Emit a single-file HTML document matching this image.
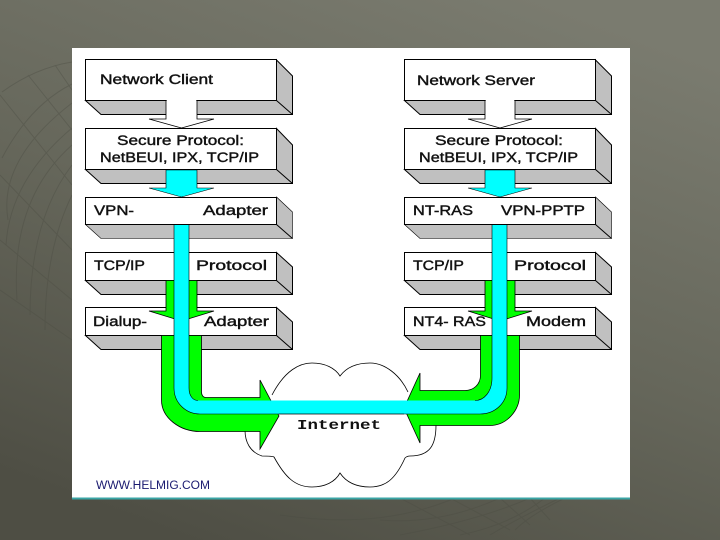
<!DOCTYPE html>
<html><head><meta charset="utf-8">
<style>
html,body{margin:0;padding:0;width:720px;height:540px;overflow:hidden;background:#66675b}
svg{display:block}
.t{font-family:"Liberation Sans",sans-serif;font-size:13.5px;fill:#111;stroke:#111;stroke-width:.4}
</style></head><body>
<svg width="720" height="540" viewBox="0 0 720 540" xmlns="http://www.w3.org/2000/svg">
<defs>
<linearGradient id="bg" x1="0.75" y1="0" x2="0.25" y2="1">
<stop offset="0" stop-color="#7a7b6f"/><stop offset="0.5" stop-color="#66675b"/><stop offset="1" stop-color="#4e4e44"/>
</linearGradient>
</defs>
<rect width="720" height="540" fill="url(#bg)"/>
<g fill="none" stroke="#4c4d43" stroke-width="1" opacity=".4">
<path d="M2 92Q35 68 72 62M2 158Q30 105 72 84M8 220Q-2 160 72 103M6 245Q10 180 72 128M17 300Q10 200 72 145M30 315Q30 220 72 165M45 330Q45 250 72 195"/>
<path d="M0 95L72 185M28 75L72 130M55 65L72 90M0 175L72 250M0 240L72 300M0 290L72 340"/>
<path d="M400 535Q480 520 530 498M460 535Q510 525 545 498M490 535Q515 520 560 498M515 530Q530 515 565 498M380 520Q440 525 500 498M280 515Q380 530 455 498"/>
<path d="M400 498L470 535M450 498L510 530M500 498L530 525M530 498L550 520"/>
</g>
<rect x="72" y="48" width="558" height="450" fill="#fff"/>
<rect x="72" y="497.500" width="558" height="2" fill="#3aa5a5"/>

<!-- boxes -->
<g stroke="#000" stroke-width="1" fill="#c0c0c0">
<path d="M85.500 100.500L101 114.500H292.500V76L276.500 60V100.500Z"/>
<path d="M85.500 169.500L101 183.500H292.500V145L276.500 128.500V169.500Z"/>
<path d="M85.500 224.500L101 238.500H292.500V212L276.500 197V224.500Z" stroke-width=".6"/>
<path d="M85.500 280.500L101 294.500H292.500V267L276.500 252.500V280.500Z"/>
<path d="M85.500 335.500L101 349.500H292.500V322L276.500 307.500V335.500Z"/>
<path d="M404.500 100.500L420 114.500H611.500V76L595.500 60V100.500Z"/>
<path d="M404.500 169.500L420 183.500H611.500V145L595.500 128.500V169.500Z"/>
<path d="M404.500 224.500L420 238.500H611.500V212L595.500 197V224.500Z" stroke-width=".6"/>
<path d="M404.500 280.500L420 294.500H611.500V267L595.500 252.500V280.500Z"/>
<path d="M404.500 335.500L420 349.500H611.500V322L595.500 307.500V335.500Z"/>
<path d="M276.500 100.500L292.500 114.500M276.500 169.500L292.500 183.500M276.500 224.500L292.500 238.500M276.500 280.500L292.500 294.500M276.500 335.500L292.500 349.500M595.500 100.500L611.500 114.500M595.500 169.500L611.500 183.500M595.500 224.500L611.500 238.500M595.500 280.500L611.500 294.500M595.500 335.500L611.500 349.500" fill="none"/>
</g>
<g stroke="#000" stroke-width="1" fill="#fff">
<rect x="85.500" y="59.500" width="191" height="41"/>
<rect x="85.500" y="128.500" width="191" height="41"/>
<rect x="85.500" y="197.500" width="191" height="27"/>
<rect x="85.500" y="252.500" width="191" height="28"/>
<rect x="85.500" y="307.500" width="191" height="28"/>
<rect x="404.500" y="59.500" width="191" height="41"/>
<rect x="404.500" y="128.500" width="191" height="41"/>
<rect x="404.500" y="197.500" width="191" height="27"/>
<rect x="404.500" y="252.500" width="191" height="28"/>
<rect x="404.500" y="307.500" width="191" height="28"/>
</g>

<!-- cloud -->
<path d="M272 395C285 370 300 363 312 363C325 363 335 368 340 376C346 368 356 363 370 363C385 363 400 375 408 392M436 425C436 445 430 456 410 456C407 456 406 457 405 458C395 480 385 487 370 487C356 487 346 482 340 473C335 482 325 487 312 487C295 487 285 477 274 457C272 456 268 456 262 456C250 452 245 442 245 430" fill="#fff" stroke="#000" stroke-width=".8"/>

<!-- white arrows -->
<path d="M166 100.500V119H149L181.500 128L214 119H197V100.500" fill="#fff" stroke="#000" stroke-width=".8"/>
<path d="M485 100.500V119H468L500 128L532 119H515V100.500" fill="#fff" stroke="#000" stroke-width=".8"/>
<rect x="167" y="99" width="29" height="4" fill="#fff"/><rect x="486" y="99" width="28" height="4" fill="#fff"/>

<!-- cyan wide arrows -->
<path d="M166 170V188H149L181.500 197L214 188H197V170Z" fill="#0ff" stroke="#000" stroke-width=".6"/>
<path d="M485 170V188H468L500 197L532 188H515V170Z" fill="#0ff" stroke="#000" stroke-width=".6"/>

<!-- green upper arrows -->
<path d="M166 280.500V311H149L181.500 321L214 311H197V280.500Z" fill="#0f0" stroke="#000" stroke-width=".8"/>
<path d="M485 280.500V311H468L500 321L532 311H515V280.500Z" fill="#0f0" stroke="#000" stroke-width=".8"/>

<!-- green lower left -->
<path d="M161.500 335.500V400C161.500 418 180 431.500 200 431.500H260V449L279 416L260 380V397.500H206C203 397.500 201.500 395 201.500 392V335.500Z" fill="#0f0" stroke="#000" stroke-width=".8"/>
<!-- green lower right -->
<path d="M480.500 335.500V375C480.500 385 473 390.500 465 390.500H420V373L404 408L420 443V425.500H490C507 425.500 519.500 410 519.500 395V335.500Z" fill="#0f0" stroke="#000" stroke-width=".8"/>

<!-- cyan U -->
<path d="M174 225V388C174 403 186 414 200 414H480C495 414 507 403 507 388V225H492V378C492 392 484 400.500 475 400.500H198C193 400.500 189 396 189 388V225Z" fill="#0ff"/>
<path d="M174 225V388C174 403 186 414 200 414H279M404 414H480C495 414 507 403 507 388V225M492 225V378C492 392 484 400.500 475 400.500M189 225V388C189 396 193 400.500 198 400.500" fill="none" stroke="#000" stroke-width=".6"/>
<path d="M279 414H404" stroke="#000" stroke-width=".8"/>

<!-- labels -->
<text class="t" x="100" y="84" textLength="113" lengthAdjust="spacingAndGlyphs">Network Client</text>
<text class="t" x="117" y="145" textLength="127" lengthAdjust="spacingAndGlyphs">Secure Protocol:</text>
<text class="t" x="100" y="162" textLength="159" lengthAdjust="spacingAndGlyphs">NetBEUI, IPX, TCP/IP</text>
<text class="t" x="94" y="215" textLength="40" lengthAdjust="spacingAndGlyphs">VPN-</text>
<text class="t" x="203" y="215" textLength="65" lengthAdjust="spacingAndGlyphs">Adapter</text>
<text class="t" x="94" y="270" textLength="51" lengthAdjust="spacingAndGlyphs">TCP/IP</text>
<text class="t" x="196" y="270" textLength="71" lengthAdjust="spacingAndGlyphs">Protocol</text>
<text class="t" x="93" y="326" textLength="54" lengthAdjust="spacingAndGlyphs">Dialup-</text>
<text class="t" x="204" y="326" textLength="65" lengthAdjust="spacingAndGlyphs">Adapter</text>

<text class="t" x="417" y="85" textLength="118" lengthAdjust="spacingAndGlyphs">Network Server</text>
<text class="t" x="435" y="145" textLength="128" lengthAdjust="spacingAndGlyphs">Secure Protocol:</text>
<text class="t" x="419" y="162" textLength="159" lengthAdjust="spacingAndGlyphs">NetBEUI, IPX, TCP/IP</text>
<text class="t" x="413" y="215" textLength="60" lengthAdjust="spacingAndGlyphs">NT-RAS</text>
<text class="t" x="501" y="215" textLength="84" lengthAdjust="spacingAndGlyphs">VPN-PPTP</text>
<text class="t" x="413" y="270" textLength="51" lengthAdjust="spacingAndGlyphs">TCP/IP</text>
<text class="t" x="514" y="270" textLength="72" lengthAdjust="spacingAndGlyphs">Protocol</text>
<text class="t" x="413" y="326" textLength="73" lengthAdjust="spacingAndGlyphs">NT4- RAS</text>
<text class="t" x="526" y="326" textLength="60" lengthAdjust="spacingAndGlyphs">Modem</text>

<text x="297" y="429" textLength="84" lengthAdjust="spacingAndGlyphs" style="font-family:'Liberation Mono',monospace;font-size:14px;font-weight:bold;fill:#111">Internet</text>
<text x="96" y="489" textLength="114" lengthAdjust="spacingAndGlyphs" style="font-family:'Liberation Sans',sans-serif;font-size:11.5px;fill:#1a1a70">WWW.HELMIG.COM</text>
</svg>
</body></html>
